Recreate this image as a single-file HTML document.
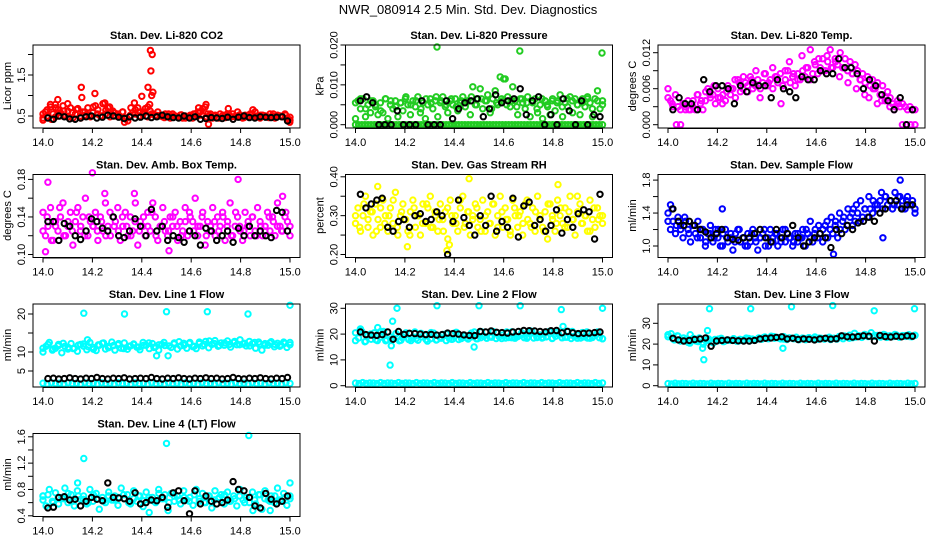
<!DOCTYPE html>
<html><head><meta charset="utf-8"><style>
html,body{margin:0;padding:0;background:#fff;}
svg{display:block;font-family:"Liberation Sans",sans-serif;}
</style></head><body>
<svg id="chart" width="936" height="540" viewBox="0 0 936 540" xmlns="http://www.w3.org/2000/svg">
<rect width="936" height="540" fill="#fff"/>
<text x="468" y="14" text-anchor="middle" font-size="13">NWR_080914  2.5 Min. Std. Dev. Diagnostics</text>
</svg>
<script>
const xTicks=[14.0,14.2,14.4,14.6,14.8,15.0];
// Panel 1 CO2
const p1Red=[0.45,0.6,0.5,0.72,0.55,0.48,0.65,0.58,0.75,0.5,0.62,0.7,0.45,0.55,0.68,0.5,0.6,0.52,0.7,0.48,0.58,0.75,0.65,0.5,0.8,0.55,0.7,0.6,0.62,0.5,0.55,0.48,0.6,0.45,0.38,0.52,0.58,0.65,0.7,0.6,0.55,0.68,0.72,0.62,0.55,0.5,0.6,0.52,0.48,0.55,0.5,0.45,0.55,0.5,0.48,0.52,0.45,0.5,0.47,0.52,0.45,0.55,0.5,0.6,0.68,0.72,0.55,0.5,0.45,0.52,0.48,0.55,0.5,0.46,0.52,0.5,0.55,0.48,0.6,0.5,0.45,0.52,0.5,0.55,0.48,0.6,0.5,0.45,0.52,0.5,0.48,0.55,0.5,0.45,0.52,0.5,0.48,0.55,0.45,0.4];
const p1Red2=[0.55,0.65,0.42,0.7,0.5,0.62,0.48,0.58,0.66,0.45,0.6,0.52,0.72,0.55,0.5,0.64,0.48,0.58,0.52,0.6,0.45,0.7,0.55,0.5,0.6,0.48,0.55,0.52,0.5,0.46,0.55,0.5,0.48,0.53,0.45,0.5,0.55,0.6,0.52,0.48,0.55,0.5,0.45,0.52,0.55,0.48,0.5,0.53,0.46,0.5,0.55,0.48,0.52,0.5,0.46,0.55,0.5,0.48,0.52,0.47];
const p1OutX=[14.03,14.05,14.06,14.1,14.155,14.157,14.21,14.25,14.27,14.33,14.37,14.4,14.425,14.432,14.435,14.437,14.44,14.442,14.445,14.63,14.66,14.67,14.75,14.85,14.0,14.999];
const p1OutY=[0.78,0.78,0.9,0.8,1.2,0.95,1.05,0.82,0.72,0.35,0.82,0.98,1.2,0.78,2.1,1.6,1.0,2.0,1.08,0.7,0.78,0.3,0.68,0.65,0.4,0.35];
const p1Black=[0.45,0.42,0.5,0.48,0.43,0.42,0.45,0.48,0.5,0.45,0.47,0.52,0.5,0.47,0.44,0.48,0.45,0.47,0.5,0.46,0.48,0.52,0.48,0.46,0.45,0.5,0.45,0.48,0.42,0.44,0.46,0.45,0.44,0.47,0.42,0.47,0.5,0.46,0.45,0.48,0.47,0.46,0.47,0.48,0.38];
// Panel 2 Pressure
const p2Green=[0.0015,0.006,0.004,0.0065,0.002,0.005,0.003,0.006,0.0045,0.0025,0.0055,0.003,0.0065,0.0015,0.005,0.004,0.006,0.002,0.0055,0.0035,0.0065,0.005,0.0025,0.006,0.0045,0.007,0.003,0.0055,0.0015,0.005,0.0065,0.004,0.006,0.002,0.0055,0.007,0.0045,0.003,0.006,0.005,0.0065,0.0035,0.0055,0.007,0.0045,0.006,0.0025,0.0095,0.005,0.0065,0.009,0.004,0.006,0.0075,0.003,0.0065,0.0085,0.005,0.012,0.006,0.0115,0.007,0.0045,0.0095,0.006,0.0025,0.0065,0.0055,0.004,0.007,0.002,0.0055,0.0065,0.003,0.005,0.0015,0.006,0.0045,0.0025,0.0065,0.0035,0.006,0.0075,0.002,0.0055,0.0045,0.007,0.003,0.0065,0.005,0.0025,0.0065,0.0045,0.007,0.0055,0.002,0.0065,0.0085,0.004,0.006];
const p2Green2=[0.0055,0.0065,0.004,0.006,0.005,0.0035,0.0065,0.006,0.0045,0.0055,0.007,0.005,0.006,0.004,0.0065,0.0055,0.007,0.006,0.005,0.0065,0.0045,0.006,0.0055,0.007,0.005,0.0065,0.006,0.004,0.0055,0.0065,0.005,0.006,0.0045,0.0065,0.0055,0.006,0.004,0.0065,0.005,0.006,0.0055,0.0045,0.0065,0.006,0.005,0.0055,0.0065,0.004,0.006,0.005];
const p2Zero=[0,0,0,0,0,0,0,0,0,0,0,0,0,0,0,0,0,0,0,0,0,0,0,0,0,0,0,0,0,0,0,0,0,0,0,0,0,0,0,0,0,0,0,0,0,0,0,0,0,0,0,0,0,0,0,0,0,0,0,0,0,0,0,0,0,0,0,0,0,0,0,0,0,0,0,0,0,0,0,0];
const p2OutX=[14.33,14.665,14.998,14.6];
const p2OutY=[0.0195,0.0185,0.018,0.0115];
const p2Black=[0.006,0.007,0.0055,0,0,0,0.0035,0,0,0,0.006,0,0,0,0.006,0.0015,0.004,0.0055,0.006,0.0065,0.002,0.004,0.0075,0.0055,0.006,0.0065,0.009,0.0025,0.006,0.007,0,0.0025,0,0.0065,0.0035,0,0.006,0,0.0025,0.002];
// Panel 3 Li-820 Temp
const p3Mag=[0.006,0.004,0.003,0.005,0.003,0.0025,0.0035,0.0025,0.004,0.0025,0.003,0.0025,0.005,0.0035,0.0025,0.004,0.006,0.0045,0.005,0.0035,0.006,0.0045,0.005,0.004,0.0065,0.005,0.006,0.0045,0.0075,0.0055,0.006,0.007,0.0055,0.008,0.006,0.0065,0.0075,0.006,0.007,0.0085,0.0065,0.0075,0.006,0.008,0.007,0.0085,0.0065,0.0075,0.009,0.007,0.008,0.0065,0.0085,0.0075,0.009,0.008,0.0095,0.0075,0.0085,0.010,0.0085,0.0095,0.011,0.009,0.0105,0.0125,0.0095,0.011,0.010,0.012,0.0095,0.011,0.009,0.0105,0.0085,0.010,0.009,0.0075,0.0085,0.007,0.008,0.0065,0.0075,0.006,0.007,0.005,0.0065,0.004,0.0055,0.0045,0.0035,0.003,0.004,0.003,0.0035,0.003,0.0025,0.003,0.0025,0.0025];
const p3Mag2=[0.0045,0.0035,0,0,0.003,0.0025,0.004,0.005,0.004,0.0055,0.005,0.0065,0.0045,0.0035,0.0055,0.006,0.0075,0.007,0.008,0.0065,0.0075,0.009,0.0045,0.0085,0.007,0.0095,0.008,0.0035,0.009,0.0105,0.0085,0.0075,0.0115,0.0095,0.0125,0.0105,0.011,0.009,0.0115,0.0095,0.0105,0.008,0.0095,0.007,0.0085,0.006,0.0075,0.005,0.0045,0.006,0.0035,0.004,0.0045,0.003,0.0025,0.0035,0,0,0,0];
const p3Black=[0.0025,0.0045,0.0035,0.0035,0.0025,0.0075,0.0055,0.0065,0.0065,0.006,0.0035,0.0065,0.0055,0.007,0.0065,0.0065,0.0045,0.0075,0.006,0.0055,0.0045,0.008,0.0075,0.0075,0.009,0.0085,0.0085,0.011,0.0095,0.0095,0.0085,0.006,0.0075,0.0065,0.005,0.004,0.0025,0.0045,0,0.0025];
// Panel 4 Amb Box Temp
const p4Mag=[0.145,0.12,0.13,0.15,0.115,0.135,0.125,0.14,0.155,0.12,0.13,0.145,0.11,0.135,0.15,0.125,0.14,0.16,0.12,0.135,0.13,0.145,0.115,0.14,0.125,0.155,0.13,0.12,0.14,0.135,0.15,0.115,0.13,0.145,0.12,0.14,0.125,0.155,0.11,0.135,0.13,0.12,0.145,0.125,0.155,0.14,0.115,0.13,0.15,0.125,0.12,0.14,0.13,0.145,0.115,0.135,0.125,0.15,0.12,0.14,0.135,0.16,0.12,0.13,0.145,0.11,0.135,0.125,0.15,0.12,0.14,0.13,0.145,0.115,0.135,0.155,0.12,0.13,0.14,0.125,0.115,0.145,0.13,0.12,0.14,0.125,0.15,0.135,0.12,0.13,0.145,0.125,0.14,0.12,0.155,0.13,0.125,0.14,0.135,0.12];
const p4Mag2=[0.125,0.14,0.115,0.13,0.15,0.12,0.135,0.125,0.145,0.13,0.12,0.14,0.13,0.125,0.135,0.12,0.145,0.13,0.125,0.14,0.13,0.12,0.135,0.125,0.14,0.13,0.145,0.12,0.13,0.135,0.125,0.14,0.13,0.12,0.135,0.145,0.125,0.13,0.14,0.12,0.13,0.135,0.125,0.14,0.13,0.12,0.145,0.13,0.125,0.135,0.14,0.12,0.13,0.125,0.14,0.135,0.13,0.125,0.145,0.13];
const p4OutX=[14.02,14.2,14.79,14.01,14.51,14.97,14.37,14.25];
const p4OutY=[0.177,0.187,0.18,0.103,0.104,0.162,0.165,0.165];
const p4Black=[0.135,0.135,0.115,0.133,0.13,0.12,0.116,0.125,0.138,0.135,0.128,0.125,0.14,0.12,0.118,0.125,0.138,0.13,0.12,0.148,0.125,0.13,0.115,0.12,0.118,0.113,0.125,0.12,0.11,0.128,0.125,0.115,0.12,0.125,0.113,0.128,0.12,0.13,0.12,0.125,0.12,0.118,0.147,0.145,0.125];
// Panel 5 Gas Stream RH
const p5Yel=[0.28,0.32,0.26,0.3,0.35,0.27,0.31,0.25,0.33,0.29,0.27,0.34,0.3,0.26,0.32,0.28,0.36,0.25,0.3,0.33,0.29,0.26,0.31,0.34,0.27,0.3,0.25,0.33,0.28,0.32,0.35,0.27,0.3,0.26,0.33,0.29,0.31,0.24,0.34,0.28,0.3,0.26,0.32,0.35,0.28,0.31,0.25,0.3,0.33,0.27,0.29,0.34,0.26,0.31,0.28,0.33,0.25,0.3,0.35,0.27,0.32,0.29,0.26,0.34,0.3,0.27,0.31,0.25,0.33,0.29,0.28,0.32,0.26,0.35,0.3,0.27,0.31,0.24,0.33,0.29,0.26,0.34,0.3,0.28,0.32,0.27,0.35,0.29,0.25,0.31,0.33,0.28,0.3,0.26,0.34,0.29,0.27,0.32,0.3,0.28];
const p5Yel2=[0.3,0.27,0.33,0.29,0.31,0.26,0.32,0.28,0.3,0.34,0.27,0.31,0.29,0.25,0.32,0.3,0.28,0.33,0.27,0.31,0.29,0.26,0.32,0.3,0.28,0.34,0.27,0.31,0.29,0.32,0.26,0.3,0.28,0.33,0.27,0.31,0.29,0.25,0.32,0.3,0.28,0.34,0.27,0.31,0.29,0.26,0.33,0.3,0.28,0.32,0.27,0.31,0.29,0.35,0.28,0.3,0.26,0.32,0.29,0.3];
const p5OutX=[14.46,14.37,14.38,14.82,14.21,14.09];
const p5OutY=[0.395,0.21,0.225,0.38,0.22,0.375];
const p5Black=[0.355,0.32,0.33,0.34,0.345,0.27,0.26,0.285,0.29,0.27,0.3,0.305,0.285,0.29,0.31,0.3,0.2,0.285,0.34,0.295,0.275,0.25,0.3,0.275,0.35,0.26,0.285,0.27,0.345,0.245,0.325,0.335,0.275,0.29,0.26,0.275,0.315,0.255,0.29,0.27,0.305,0.315,0.31,0.24,0.355];
// Panel 6 Sample Flow
const p6Blue=[1.4,1.2,1.3,1.15,1.35,1.25,1.1,1.3,1.2,1.05,1.25,1.15,1.3,1.1,1.2,1.0,1.15,1.25,1.05,1.2,1.1,1.0,1.15,1.2,1.05,1.1,0.95,1.15,1.2,1.05,1.1,1.0,1.15,1.05,1.2,1.1,0.95,1.1,1.15,1.0,1.1,1.2,1.05,1.15,1.0,1.1,1.2,1.05,1.15,1.1,1.0,1.15,1.05,1.1,1.2,1.0,1.15,1.1,1.05,1.2,1.1,1.15,1.05,1.25,1.1,1.2,1.15,1.25,1.1,1.2,1.3,1.2,1.25,1.35,1.25,1.3,1.4,1.3,1.35,1.45,1.35,1.45,1.4,1.5,1.45,1.55,1.45,1.6,1.5,1.55,1.45,1.65,1.5,1.6,1.55,1.45,1.6,1.5,1.55,1.45];
const p6Blue2=[1.3,1.45,1.25,1.2,1.35,1.15,1.25,1.1,1.2,1.05,1.15,1.1,1.2,1.0,1.1,1.15,1.05,1.2,1.1,1.0,1.15,1.05,1.1,1.2,1.0,1.1,1.15,1.05,1.2,1.1,1.05,1.15,1.1,1.2,1.3,1.15,1.25,1.2,1.3,1.35,1.3,1.4,1.35,1.45,1.4,1.5,1.55,1.45,1.6,1.55,1.5,1.65,1.6,1.55,1.5,1.6,1.45,1.55,1.5,1.4];
const p6OutX=[14.94,14.67,14.75,14.87,14.22,14.01];
const p6OutY=[1.8,0.9,1.45,1.1,1.45,1.5];
const p6Black=[1.45,1.3,1.25,1.3,1.25,1.2,1.17,1.1,1.15,1.2,1.1,1.08,1.07,1.1,1.1,1.15,1.2,1.1,1.05,1.2,1.1,1.15,1.25,1.1,1.0,1.05,1.1,1.15,1.1,0.98,1.2,1.15,1.25,1.2,1.28,1.3,1.35,1.3,1.4,1.45,1.55,1.55,1.45,1.5,1.5];
// Panel 7 Line 1 Flow
const p7Cyan=[10,11.5,12.5,10.5,11,12,9.8,11.5,10.8,12.2,11,10.2,12,11.5,10.6,12.5,11.2,10.4,11.8,12.3,10.8,11.5,12.6,10.5,11.9,11,12.4,10.7,11.6,12.1,11.3,10.6,12.5,11.8,10.9,12.2,11.4,10.5,12,11.7,9,11.2,12.4,10.8,11.6,12.3,11,12.5,11.4,10.9,12.2,11.6,12.8,11.1,12,13,11.5,12.4,11.8,12.9,11.3,12.5,11.9,13.2,12.1,11.6,12.8,12.2,11,12.6,10.5,12.2,11.8,12.7,11.4,12.3,11.9,12.6,11.2,12.5];
const p7Cyan2=[11,12,10.8,11.6,12.3,11.2,10.9,11.8,12.1,11.4,10.7,11.9,12.4,11.1,11.7,12.2,10.9,11.5,12,11.3,11.8,12.4,11.2,11.9,12.5,11.6,12.1,12.7,11.8,12.3,11.5,12.6,12,12.9,12.2,11.7,12.4,12,12.8,11.9,12.3,11.6,12.5,12.1,11.8,12.4,12,11.5,12.3,11.9];
const p7Low=[1.8,1.6,1.9,1.7,1.8,1.6,1.9,1.7,1.8,1.6,1.9,1.7,1.8,1.6,1.9,1.7,1.8,1.6,1.9,1.7,1.8,1.6,1.9,1.7,1.8,1.6,1.9,1.7,1.8,1.6,1.9,1.7,1.8,1.6,1.9,1.7,1.8,1.6,1.9,1.7,1.8,1.6,1.9,1.7,1.8,1.6,1.9,1.7,1.8,1.6,1.9,1.7,1.8,1.6,1.9,1.7,1.8,1.6,1.9,1.7];
const p7OutX=[14.165,14.33,14.5,14.665,14.83,15.0,14.18,14.46];
const p7OutY=[20.2,20,20.6,20.6,20,22.3,13.2,9];
const p7Black=[3,3.1,2.9,3,3.2,3,2.9,3.1,3,3.3,3,2.9,3.1,3,3.2,2.9,3,3.1,3,3.3,3,2.9,3.1,3,3.2,3,2.9,3.1,3,3.2,3,3.1,2.9,3,3.3,3,2.9,3.1,3,3.2,3,2.9,3.1,3,3.3];
// Panel 8 Line 2 Flow
const p8Cyan=[17.5,18.5,21,17,19.5,18,20.5,17.5,18.8,21,17.8,19,18.2,20.2,17.4,18.6,19.8,17.9,18.4,20.8,17.6,18.9,19.6,17.3,18.2,20.4,17.8,18.7,19.9,17.5,18.3,18,20.6,17.9,18.8,19.4,18.1,18.9,20.8,18.2,18.6,19.2,18.4,19,21,18.3,18.9,19.6,18.5,18.7,20.9,18.4,19.1,19.8,18.6,18.9,21.2,18.5,19,19.7,18.7,18.9,21,18.4,19.2,19.9,18.6,18.8,21.1,18.3,19,19.6,18.5,18.9,20.8,18.4,19.1,19.8,18.6,18.2];
const p8Cyan2=[20.5,21.5,17.2,20,17.8,21,17.4,18,20.2,17.6,20.5,17.5,18.2,20.3,17.9,20.6,17.7,18.4,20.1,18,20.7,18.3,18.6,20.4,18.2,20.9,18.5,18.8,20.6,18.3,20.8,18.6,18.9,20.5,18.4,20.9,18.7,18.5,20.6,18.3,20.7,18.6,18.8,21,18.4,20.6,18.5,18.7,20.8,18.2];
const p8Low=[1,0.8,1.2,0.9,1.1,1,0.8,1.2,0.9,1.1,1,0.8,1.2,0.9,1.1,1,0.8,1.2,0.9,1.1,1,0.8,1.2,0.9,1.1,1,0.8,1.2,0.9,1.1,1,0.8,1.2,0.9,1.1,1,0.8,1.2,0.9,1.1,1,0.8,1.2,0.9,1.1,1,0.8,1.2,0.9,1.1,1,0.8,1.2,0.9,1.1,1,0.8,1.2,0.9,1.1,1,0.8,1.2,0.9,1.1,1,0.8,1.2,0.9,1.1];
const p8OutX=[14.168,14.33,14.5,14.667,14.833,15.0,14.14,14.145,14.48,14.09,14.15,14.84,14.02];
const p8OutY=[30,31,31,31,29.5,30,8,15.5,15,22.5,25,23,22];
const p8Black=[20.8,19.8,19.6,19.5,19.8,20.8,18,21,19.9,20.3,20.2,20,19.8,19.9,19.6,19.8,20.4,20.2,20,19.7,19.5,19.4,21,20.8,21.2,20.7,20.6,20.4,20.8,21,21.4,21.3,21.2,21,20.9,21.3,21.4,20.5,21,20.5,20.2,20.3,20.4,20.6,20.8];
// Panel 9 Line 3 Flow
const p9Cyan=[23.5,25,22,24,21.5,23,22.5,20.5,22,21.5,23,20.8,21.8,22.5,21,22.2,21.6,22.8,21.3,22,21.8,22.6,21.4,22.3,21.7,22.9,21.5,22.4,22,23,22.3,23.4,22.6,23.8,22.8,23.2,22.5,23.6,22.2,23,22.7,23.3,22.4,22.9,22.1,23.1,22.6,23.4,22.3,22.8,22.5,23,22.2,22.8,22.4,23.2,22.6,23.5,22.8,23.1,23.4,24,23.2,24.5,23.6,25.5,23.8,24.2,23.4,24.6,23.2,24,23.6,24.4,23.3,24.1,23.7,24.5,23.5,24.2];
const p9Cyan2=[24.5,22.5,23.8,21.8,20.8,22.8,21.2,20,21.8,20.6,22.4,21.2,21.9,22.6,21.5,22.1,22.7,21.9,22.5,23.2,22.7,23.6,22.9,22.4,23,22.6,22.1,22.7,23.1,22.5,22.9,22.4,23.3,22.8,23.7,23.9,24.3,25.2,23.9,24.6,23.8,24.2,23.5,24.4,23.9,24.6,23.7,24.1,23.6,24.3];
const p9Low=[1,0.8,1.2,0.9,1.1,1,0.8,1.2,0.9,1.1,1,0.8,1.2,0.9,1.1,1,0.8,1.2,0.9,1.1,1,0.8,1.2,0.9,1.1,1,0.8,1.2,0.9,1.1,1,0.8,1.2,0.9,1.1,1,0.8,1.2,0.9,1.1,1,0.8,1.2,0.9,1.1,1,0.8,1.2,0.9,1.1,1,0.8,1.2,0.9,1.1,1,0.8,1.2,0.9,1.1,1,0.8,1.2,0.9,1.1,1,0.8,1.2,0.9,1.1];
const p9OutX=[14.168,14.335,14.5,14.667,14.835,14.998,14.145,14.16,14.465,14.14,14.09];
const p9OutY=[37,37,38,38.5,36,37,12.5,26.5,18,18,24.5];
const p9Black=[22.8,22,21.5,21.8,22.2,22.5,23,19,21.5,21.8,22,21.8,21.6,21.5,21.5,21.8,22.5,22.8,23,23.2,23.5,22.5,22.8,22.2,22.5,22.3,22,22.5,22.8,22.4,22.6,24,23.5,23.4,23.6,24,23.8,21.5,24.2,23.6,23.4,23.8,23.5,24,23.8];
// Panel 10 Line 4 (LT) Flow
const p10Cyan=[0.7,0.55,0.8,0.62,0.75,0.58,0.68,0.82,0.6,0.72,0.55,0.78,0.65,0.7,0.58,0.8,0.62,0.74,0.5,0.68,0.6,0.76,0.64,0.7,0.56,0.82,0.66,0.72,0.58,0.78,0.62,0.7,0.54,0.76,0.64,0.68,0.6,0.8,0.66,0.72,0.48,0.74,0.62,0.7,0.58,0.78,0.64,0.68,0.56,0.8,0.62,0.74,0.6,0.7,0.52,0.78,0.66,0.72,0.58,0.76,0.62,0.7,0.55,0.8,0.64,0.68,0.6,0.76,0.58,0.72,0.5,0.78,0.64,0.7,0.6,0.82,0.62,0.74,0.56,0.7];
const p10Cyan2=[0.64,0.72,0.6,0.68,0.66,0.74,0.62,0.7,0.65,0.6,0.72,0.66,0.62,0.7,0.64,0.68,0.72,0.6,0.66,0.7,0.63,0.68,0.62,0.74,0.66,0.6,0.7,0.64,0.68,0.62,0.72,0.66,0.6,0.7,0.64,0.68,0.72,0.62,0.66,0.7,0.6,0.68,0.64,0.72,0.66,0.62,0.7,0.64,0.68,0.66];
const p10OutX=[14.165,14.5,14.833,15.0,14.14,14.0,14.43,14.92,14.85];
const p10OutY=[1.27,1.5,1.62,0.9,0.9,0.7,0.45,0.48,0.48];
const p10Black=[0.52,0.53,0.68,0.69,0.64,0.65,0.55,0.62,0.68,0.65,0.63,0.9,0.68,0.67,0.66,0.62,0.75,0.58,0.6,0.64,0.63,0.68,0.53,0.75,0.78,0.63,0.43,0.78,0.58,0.7,0.62,0.58,0.6,0.64,0.92,0.8,0.78,0.68,0.55,0.52,0.74,0.65,0.58,0.62,0.7];

const panels=[
 {name:'co2',title:'Stan. Dev. Li-820 CO2',ylab:'Licor ppm',c:0,r:0,ya:0.5,pa:71,yb:1.5,pb:30,ticks:[0.5,1,1.5,2],tl:['0.5','','1.5',''],
  series:[['#ff0000',p1Red,null],['#ff0000',p1Red2,null],['#ff0000',p1OutY,p1OutX],['#000',p1Black,null,true]]},
 {name:'pressure',title:'Stan. Dev. Li-820 Pressure',ylab:'kPa',c:1,r:0,ya:0,pa:79.7,yb:0.02,pb:0,ticks:[0,0.005,0.01,0.015,0.02],tl:['0.000','','0.010','','0.020'],
  series:[['#22cc22',p2Zero,null],['#22cc22',p2Green,null],['#22cc22',p2Green2,null],['#22cc22',p2OutY,p2OutX],['#000',p2Black,null,true]]},
 {name:'li820-temp',title:'Stan. Dev. Li-820 Temp.',ylab:'degrees C',c:2,r:0,ya:0,pa:79.7,yb:0.012,pb:7.7,ticks:[0,0.003,0.006,0.009,0.012],tl:['0.000','','0.006','','0.012'],
  series:[['#ff00ff',p3Mag,null],['#ff00ff',p3Mag2,null],['#000',p3Black,null,true]]},
 {name:'amb-box-temp',title:'Stan. Dev. Amb. Box Temp.',ylab:'degrees C',c:0,r:1,ya:0.10,pa:80,yb:0.18,pb:4.9,ticks:[0.10,0.12,0.14,0.16,0.18],tl:['0.10','','0.14','','0.18'],
  series:[['#ff00ff',p4Mag,null],['#ff00ff',p4Mag2,null],['#ff00ff',p4OutY,p4OutX],['#000',p4Black,null,true]]},
 {name:'gas-stream-rh',title:'Stan. Dev. Gas Stream RH',ylab:'percent',c:1,r:1,ya:0.2,pa:80,yb:0.4,pb:2.3,ticks:[0.2,0.25,0.3,0.35,0.4],tl:['0.20','','0.30','','0.40'],
  series:[['#ffff00',p5Yel,null],['#ffff00',p5Yel2,null],['#ffff00',p5OutY,p5OutX],['#000',p5Black,null,true]]},
 {name:'sample-flow',title:'Stan. Dev. Sample Flow',ylab:'ml/min',c:2,r:1,ya:1.0,pa:71.5,yb:1.8,pb:5.6,ticks:[1.0,1.2,1.4,1.6,1.8],tl:['1.0','','1.4','','1.8'],
  series:[['#0000ff',p6Blue,null],['#0000ff',p6Blue2,null],['#0000ff',p6OutY,p6OutX],['#000',p6Black,null,true]]},
 {name:'line1-flow',title:'Stan. Dev. Line 1 Flow',ylab:'ml/min',c:0,r:2,ya:5,pa:67,yb:20,pb:10,ticks:[5,10,15,20],tl:['5','10','','20'],
  series:[['#00ffff',p7Low,null],['#00ffff',p7Cyan,null],['#00ffff',p7Cyan2,null],['#00ffff',p7OutY,p7OutX],['#000',p7Black,null,true]]},
 {name:'line2-flow',title:'Stan. Dev. Line 2 Flow',ylab:'ml/min',c:1,r:2,ya:0,pa:81.7,yb:30,pb:4.3,ticks:[0,10,20,30],tl:['0','10','20','30'],
  series:[['#00ffff',p8Low,null],['#00ffff',p8Cyan,null],['#00ffff',p8Cyan2,null],['#00ffff',p8OutY,p8OutX],['#000',p8Black,null,true]]},
 {name:'line3-flow',title:'Stan. Dev. Line 3 Flow',ylab:'ml/min',c:2,r:2,ya:0,pa:81.7,yb:30,pb:19.3,ticks:[0,10,20,30],tl:['0','10','20','30'],
  series:[['#00ffff',p9Low,null],['#00ffff',p9Cyan,null],['#00ffff',p9Cyan2,null],['#00ffff',p9OutY,p9OutX],['#000',p9Black,null,true]]},
 {name:'line4-flow',title:'Stan. Dev. Line 4 (LT) Flow',ylab:'ml/min',c:0,r:3,ya:0.4,pa:82.3,yb:1.6,pb:3.3,ticks:[0.4,0.6,0.8,1.0,1.2,1.4,1.6],tl:['0.4','','0.8','','1.2','','1.6'],
  series:[['#00ffff',p10Cyan,null],['#00ffff',p10Cyan2,null],['#00ffff',p10OutY,p10OutX],['#000',p10Black,null,true]]}
];
const NS='http://www.w3.org/2000/svg';
const svg=document.getElementById('chart');
function mk(tag,attrs,parent){const e=document.createElementNS(NS,tag);for(const k in attrs)e.setAttribute(k,attrs[k]);parent.appendChild(e);return e;}
panels.forEach(p=>{
  const x0=43+312.5*p.c, x1=x0+247, top=45+129.5*p.r, bot=top+83, left=x0-10, right=x1+10;
  const xs=v=>x0+(v-14)*(x1-x0);
  const ys=v=>top+p.pa+(v-p.ya)*(p.pb-p.pa)/(p.yb-p.ya);
  const g=mk('g',{},svg);
  
  
  const t=mk('text',{x:(left+right)/2,y:top-6,'text-anchor':'middle','font-size':'11','font-weight':'bold'},g);
  t.textContent=p.title;
  
  
  const pts=mk('g',{fill:'none','stroke-width':'2'},g);
  
  
  p.series.forEach(s=>{
    const [col,vals,xv,isBlack]=s;
    const n=vals.length;
    vals.forEach((v,i)=>{
      let xv2;
      if(xv) xv2=xv[i]; else if(isBlack) xv2=14.02+0.97*i/(n-1); else xv2=14+i/(n-1);
      const c=mk('circle',{cx:xs(xv2).toFixed(1),cy:ys(v).toFixed(1),r:'2.7',stroke:col},pts);
      
      
    });
  });
  const box=mk('rect',{x:left,y:top,width:right-left,height:83,fill:'none',stroke:'#000','stroke-width':'1'},g);
  
  
  const xa=mk('g',{},g);
  
  
  mk('line',{x1:x0,x2:x1,y1:bot+0.5,y2:bot+0.5,stroke:'#000'},xa);
  xTicks.forEach(v=>{
    mk('line',{x1:xs(v),x2:xs(v),y1:bot,y2:bot+5,stroke:'#000'},xa);
    const tl=mk('text',{x:xs(v),y:bot+18,'text-anchor':'middle','font-size':'11'},xa);
    tl.textContent=v.toFixed(1);
    
    
  });
  const ya=mk('g',{},g);
  
  
  mk('line',{x1:left,x2:left,y1:ys(p.ticks[0]),y2:ys(p.ticks[p.ticks.length-1]),stroke:'#000'},ya);
  p.ticks.forEach((v,i)=>{
    const y=ys(v);
    mk('line',{x1:left-5,x2:left,y1:y,y2:y,stroke:'#000'},ya);
    if(p.tl[i]){
      const tl=mk('text',{x:left-8,y:y,'text-anchor':'middle','font-size':'11',transform:`rotate(-90 ${left-8} ${y})`},ya);
      tl.textContent=p.tl[i];
      
      
    }
  });
  const yt=mk('text',{x:left-22,y:top+41,'text-anchor':'middle','font-size':'11',transform:`rotate(-90 ${left-22} ${top+41})`},g);
  yt.textContent=p.ylab;
  
  
});
</script>
</body></html>
